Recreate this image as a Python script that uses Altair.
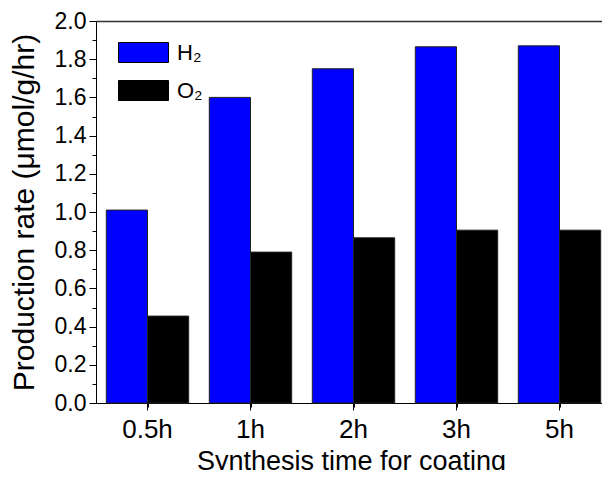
import altair as alt
import pandas as pd

times = ["0.5h", "1h", "2h", "3h", "5h"]
h2 = [1.01, 1.60, 1.75, 1.865, 1.87]
o2 = [0.455, 0.79, 0.865, 0.905, 0.905]
gases = ["H₂", "O₂"]
colors = ["#0000FF", "#000000"]
y_ticks = [round(i * 0.1, 1) for i in range(21)]

rows = []
for t, a, b in zip(times, h2, o2):
    rows.append({"time": t, "gas": gases[0], "rate": a})
    rows.append({"time": t, "gas": gases[1], "rate": b})
df = pd.DataFrame(rows)
df_t = pd.DataFrame({"time": times})

FONT = "Liberation Sans"
XRANGE = [0, 515]

bars = alt.Chart(df).mark_bar(stroke="#222222", strokeWidth=1).encode(
    x=alt.X("time:N", sort=times,
            scale=alt.Scale(paddingInner=0, paddingOuter=0, range=XRANGE),
            axis=alt.Axis(title="Synthesis time for coating", labelAngle=0,
                          labelFontSize=26, labelPadding=6, tickSize=7,
                          tickColor="black", domainColor="black",
                          labelColor="black", titleColor="black",
                          titleFontSize=27, titleFontWeight="normal",
                          titleX=255, titleY=66, titleBaseline="alphabetic")),
    xOffset=alt.XOffset("gas:N", sort=gases,
                        scale=alt.Scale(paddingOuter=0.25, paddingInner=0)),
    y=alt.Y("rate:Q", scale=alt.Scale(domain=[0, 2], nice=False),
            axis=alt.Axis(title="Production rate (μmol/g/hr)", values=y_ticks,
                          labelExpr="round(datum.value*10) % 2 == 0 ? format(datum.value, '.1f') : ''",
                          tickSize=alt.ConditionalAxisNumber(
                              condition={"test": "round(datum.value*10) % 2 == 0", "value": 7},
                              value=4),
                          labelFontSize=23, labelPadding=3, grid=False,
                          tickColor="black", domainColor="black",
                          labelColor="black", titleColor="black",
                          titleFontSize=30, titleFontWeight="normal",
                          titleX=-63, titleY=191, titleAlign="center",
                          titleBaseline="alphabetic")),
    color=alt.Color("gas:N", sort=gases,
                    scale=alt.Scale(domain=gases, range=colors),
                    legend=alt.Legend(title=None, orient="none",
                                      legendX=22, legendY=6,
                                      symbolType="M-1,-0.4H1V0.4H-1Z",
                                      symbolSize=2500, symbolStrokeColor="black",
                                      symbolStrokeWidth=1, symbolOpacity=1,
                                      labelFontSize=22, labelColor="black",
                                      labelOffset=8, rowPadding=-2)),
)

minor = alt.Chart(df_t).mark_point(opacity=0).encode(
    x=alt.X("time:N", sort=times,
            scale=alt.Scale(paddingInner=0, paddingOuter=0, range=XRANGE),
            axis=alt.Axis(title=None, labels=False, domain=False, bandPosition=0,
                          tickSize=4, tickColor="black", orient="bottom")),
)

top = alt.Chart(df_t).mark_point(opacity=0).encode(
    x=alt.X("time:N", sort=times,
            scale=alt.Scale(paddingInner=0, paddingOuter=0, range=XRANGE),
            axis=alt.Axis(title=None, labels=False, ticks=False, domain=True,
                          domainColor="#333333", domainWidth=1.5, orient="top")),
)

chart = alt.layer(bars, minor, top).resolve_scale(x="independent").resolve_axis(x="independent").properties(
    width=506, height=382,
    padding={"left": 88, "top": 13, "right": 0, "bottom": 67},
    autosize=alt.AutoSizeParams(type="none"),
).configure(font=FONT).configure_view(strokeWidth=0)

chart.save("out.html", embed_options={"renderer": "svg", "actions": False})
